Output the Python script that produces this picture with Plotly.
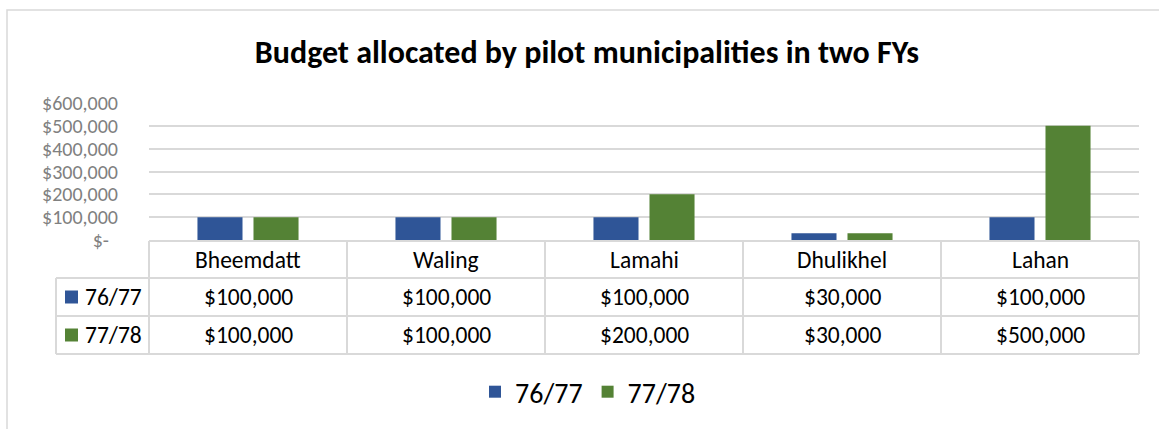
import plotly.graph_objects as go

# ---------------- data ----------------
categories = ["Bheemdatt", "Waling", "Lamahi", "Dhulikhel", "Lahan"]
series_names = ["76/77", "77/78"]
fy_76_77 = [100000, 100000, 100000, 30000, 100000]
fy_77_78 = [100000, 100000, 200000, 30000, 500000]
tick_values = [0, 100000, 200000, 300000, 400000, 500000, 600000]
tick_labels = ["$-\u00a0\u00a0", "$100,000", "$200,000", "$300,000", "$400,000", "$500,000", "$600,000"]
title_text = "Budget allocated by pilot municipalities in two FYs"

# ---------------- style ----------------
W, H = 1159, 429
L, R, T, B = 149, 1139, 103, 240
FONT = "Carlito, Lato, sans-serif"
BLUE = "#2f5597"
GREEN = "#548235"
GRID = "#d9d9d9"
colors = [BLUE, GREEN]
series_values = [fy_76_77, fy_77_78]
TABLE_FS = 23.5


def px(x):
    return (x - L) / (R - L)


def py(y):
    return (B - y) / (B - T)


fig = go.Figure()
for name, vals, col in zip(series_names, series_values, colors):
    fig.add_trace(go.Bar(x=categories, y=vals, name=name, marker_color=col,
                         marker_line_width=0))

shapes = []
annotations = []

# outer chart border
shapes.append(dict(type="rect", xref="paper", yref="paper",
                   x0=px(7), x1=px(1170), y0=py(440), y1=py(10),
                   line=dict(color=GRID, width=1.5), fillcolor="rgba(0,0,0,0)", layer="below"))

# data table under the axis
n = len(categories)
colw = (R - L) / n
rows_y = [241, 278, 316, 354]
label_left = 56
line_style = dict(color=GRID, width=2)

shapes.append(dict(type="line", xref="paper", yref="paper", x0=px(L), x1=px(R),
                   y0=py(rows_y[0]), y1=py(rows_y[0]), line=line_style))
for yy in rows_y[1:]:
    shapes.append(dict(type="line", xref="paper", yref="paper", x0=px(label_left), x1=px(R),
                       y0=py(yy), y1=py(yy), line=line_style))
for i in range(n + 1):
    xx = L + i * colw
    shapes.append(dict(type="line", xref="paper", yref="paper", x0=px(xx), x1=px(xx),
                       y0=py(rows_y[0]), y1=py(rows_y[-1]), line=line_style))
shapes.append(dict(type="line", xref="paper", yref="paper", x0=px(label_left), x1=px(label_left),
                   y0=py(rows_y[1]), y1=py(rows_y[-1]), line=line_style))

for i, c in enumerate(categories):
    annotations.append(dict(xref="paper", yref="paper", x=px(L + (i + 0.5) * colw),
                            y=py((rows_y[0] + rows_y[1]) / 2), text=c, showarrow=False,
                            font=dict(family=FONT, size=TABLE_FS, color="#000000"),
                            xanchor="center", yanchor="middle"))
for r, (name, vals, col) in enumerate(zip(series_names, series_values, colors)):
    yc = (rows_y[r + 1] + rows_y[r + 2]) / 2
    shapes.append(dict(type="rect", xref="paper", yref="paper",
                       x0=px(65), x1=px(78), y0=py(yc + 6.5), y1=py(yc - 6.5),
                       fillcolor=col, line=dict(width=0)))
    annotations.append(dict(xref="paper", yref="paper", x=px(83), y=py(yc), text=name,
                            showarrow=False, font=dict(family=FONT, size=TABLE_FS, color="#000000"),
                            xanchor="left", yanchor="middle"))
    for i, v in enumerate(vals):
        annotations.append(dict(xref="paper", yref="paper", x=px(L + (i + 0.5) * colw), y=py(yc),
                                text=f"${v:,}", showarrow=False,
                                font=dict(family=FONT, size=TABLE_FS, color="#000000"),
                                xanchor="center", yanchor="middle"))

fig.update_layout(
    width=W, height=H,
    margin=dict(l=L, r=W - R, t=T, b=H - B, pad=0),
    paper_bgcolor="white", plot_bgcolor="white",
    barmode="group", bargap=0.434, bargroupgap=0.196,
    title=dict(text=f"<b>{title_text}</b>", xref="paper", x=px(587), xanchor="center",
               yref="container", y=1 - 52 / H, yanchor="middle",
               font=dict(family=FONT, size=32, color="#000000")),
    showlegend=True,
    legend=dict(orientation="h", x=px(588), xanchor="center", y=py(392), yanchor="middle",
                font=dict(family=FONT, size=28, color="#000000"), bgcolor="rgba(0,0,0,0)",
                itemwidth=30),
    shapes=shapes, annotations=annotations,
    xaxis=dict(showticklabels=False, showgrid=False, showline=False, zeroline=False,
               range=[-0.5, n - 0.5], fixedrange=True),
    yaxis=dict(range=[0, 600000], tickvals=tick_values, ticktext=tick_labels,
               showgrid=True, gridcolor=GRID, gridwidth=1.5, zeroline=False, showline=False,
               tickfont=dict(family=FONT, size=20, color="#808080"),
               ticks="", ticklabelstandoff=30),
)

fig.write_html("out.html", config={"displayModeBar": False},
               post_script="document.body.style.margin='0px';")
